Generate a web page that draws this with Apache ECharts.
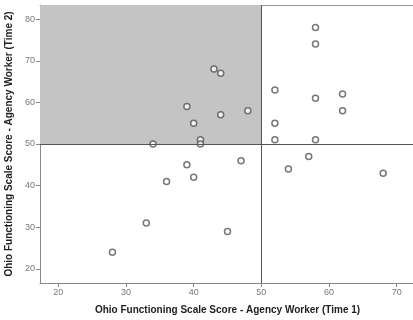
<!DOCTYPE html>
<html>
<head>
<meta charset="utf-8">
<script src="https://cdn.jsdelivr.net/npm/echarts@6/dist/echarts.min.js"></script>
<style>
  html, body { margin: 0; padding: 0; background: #fff; }
  #main { width: 413px; height: 320px; }
</style>
</head>
<body>
<div id="main"></div>
<script>
// Time 1 / Time 2 scores per case
var time1 = [34, 39, 40, 41, 41, 43, 44, 44, 48, 52, 58, 58, 58, 62, 62, 52, 52, 58, 39, 40, 36, 33, 28, 47, 45, 54, 57, 68];
var time2 = [50, 59, 55, 51, 50, 68, 67, 57, 58, 63, 78, 74, 61, 62, 58, 55, 51, 51, 45, 42, 41, 31, 24, 46, 29, 44, 47, 43];
var xTicks = [20, 30, 40, 50, 60, 70];
var yTicks = [20, 30, 40, 50, 60, 70, 80];
var cut = 50;

var xMin = 17.3, xMax = 72.7;
var yMin = 16.6, yMax = 83.4;

var myChart = echarts.init(document.getElementById('main'));

var points = time1.map(function (v, i) { return [v, time2[i]]; });

var axisText = { color: '#777', fontSize: 9, fontFamily: 'Liberation Sans' };
var titleText = { color: '#222', fontSize: 10, fontWeight: 'bold', fontFamily: 'Liberation Sans' };

var option = {
  animation: false,
  grid: {
    left: 40, right: -2, top: 5, bottom: 37,
    outerBoundsMode: 'none', containLabel: false
  },
  xAxis: [
    {
      type: 'value',
      min: xMin,
      max: xMax,
      name: 'Ohio Functioning Scale Score - Agency Worker (Time 1)',
      nameLocation: 'middle',
      nameGap: 22,
      nameTextStyle: titleText,
      splitLine: { show: false },
      axisLine: { lineStyle: { color: '#888' } },
      axisTick: { customValues: xTicks, length: 4, lineStyle: { color: '#888' } },
      axisLabel: { customValues: xTicks, margin: 5, ...axisText }
    },
    {
      // top frame line only
      type: 'value',
      position: 'top',
      min: xMin,
      max: xMax,
      splitLine: { show: false },
      axisLine: { show: true, lineStyle: { color: '#999' } },
      axisTick: { show: false },
      axisLabel: { show: false }
    }
  ],
  yAxis: {
    type: 'value',
    min: yMin,
    max: yMax,
    name: 'Ohio Functioning Scale Score - Agency Worker (Time 2)',
    nameLocation: 'middle',
    nameGap: 19,
    nameTextStyle: titleText,
    splitLine: { show: false },
    axisLine: { show: true, lineStyle: { color: '#888' } },
    axisTick: { show: true, customValues: yTicks, length: 4, lineStyle: { color: '#888' } },
    axisLabel: { customValues: yTicks, margin: 5, ...axisText }
  },
  series: [
    {
      type: 'scatter',
      data: points,
      symbol: 'circle',
      symbolSize: 6,
      itemStyle: { color: '#fff', borderColor: '#555', borderWidth: 1.5 },
      markArea: {
        silent: true,
        itemStyle: { color: '#c4c4c4' },
        data: [[{ coord: [xMin, cut] }, { coord: [cut, yMax] }]]
      },
      markLine: {
        silent: true,
        symbol: 'none',
        label: { show: false },
        lineStyle: { color: '#555', type: 'solid', width: 1 },
        data: [{ xAxis: cut }, { yAxis: cut }]
      }
    }
  ]
};

myChart.setOption(option);
</script>
</body>
</html>
